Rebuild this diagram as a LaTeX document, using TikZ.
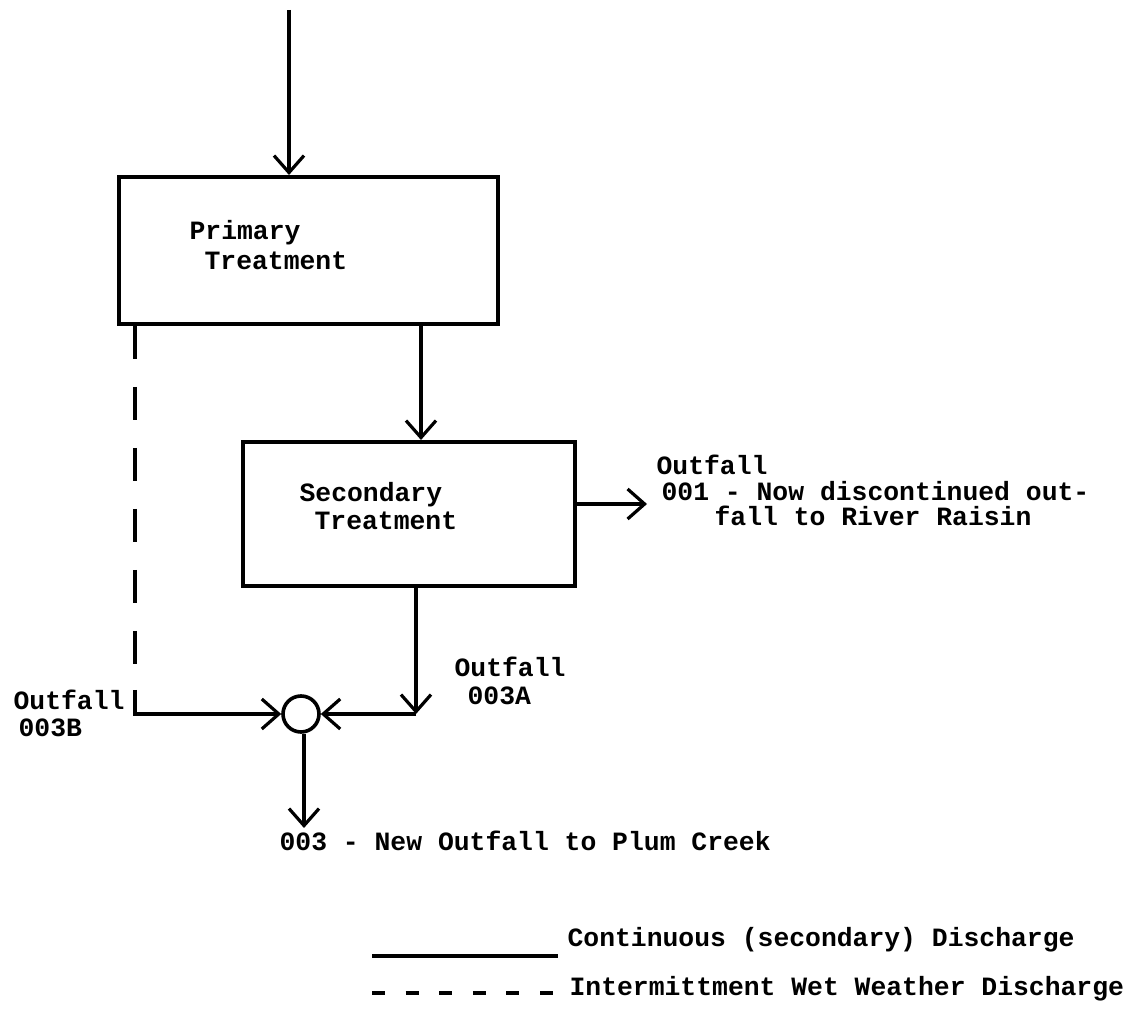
\documentclass[tikz,border=0pt]{standalone}
\usepackage{fontspec}
\setmonofont{Liberation Mono}
\usetikzlibrary{arrows.meta}
\begin{document}
\begin{tikzpicture}[x=0.5pt,y=-0.5pt,
  line width=1.6pt,
  flow/.style={-{Straight Barb[length=8.5pt,width=15pt,line width=1.6pt]}},
  box/.style={draw, line width=1.9pt, anchor=north west, inner sep=0pt},
  lbl/.style={anchor=mid west, inner sep=0pt, font=\ttfamily\bfseries\fontsize{13.2}{15}\selectfont},
  wetline/.style={line width=1.6pt, dash pattern=on 16.5pt off 14pt},
  legdash/.style={line width=2pt, dash pattern=on 6.5pt off 10.3pt},
]
\fill[white] (0,0) rectangle (1137,1010);
\useasboundingbox (0,0) rectangle (1137,1010);

% boxes
\node[box, minimum width=189.5pt, minimum height=73.5pt] (prim) at (117,175) {};
\node[lbl] (primA) at (188,235) {Primary};
\node[lbl] (primB) at (203,265) {Treatment};

\node[box, minimum width=166pt, minimum height=72pt] (sec) at (241,440) {};
\node[lbl] (secA) at (298,497) {Secondary};
\node[lbl] (secB) at (313,525) {Treatment};

\node[circle, draw, line width=1.8pt, minimum size=18pt, inner sep=0pt] (mix) at (301,714) {};

% labels
\node[lbl] (o1a) at (655,470) {Outfall};
\node[lbl] (o1b) at (660,496) {001 - Now discontinued out-};
\node[lbl] (o1c) at (713,521) {fall to River Raisin};
\node[lbl] (o3a) at (453,672) {Outfall};
\node[lbl] (o3b) at (466,700) {003A};
\node[lbl] (o3c) at (12,705) {Outfall};
\node[lbl] (o3d) at (17,732) {003B};
\node[lbl] (o3e) at (278,846) {003 - New Outfall to Plum Creek};
\node[lbl] (legA) at (566,942) {Continuous (secondary) Discharge};
\node[lbl] (legB) at (568,991) {Intermittment Wet Weather Discharge};

% coordinates
\coordinate (in) at (289,10);
\coordinate (xa) at (421,0);
\coordinate (xb) at (416,0);
\coordinate (xc) at (135,0);
\coordinate (bcorner) at (xc |- mix);
\coordinate (acorner) at (xb |- mix);
\coordinate (out1) at (647,504);
\coordinate (out3) at (304,828);
\coordinate (ls1) at (372,956);
\coordinate (ls2) at (558,956);
\coordinate (ld1) at (372,993);
\coordinate (ld2) at (556,993);

% connectors
\draw[flow] (in) -- (in |- prim.north);
\draw[flow] (prim.south -| xa) -- (sec.north -| xa);
\draw[flow] (sec.east |- out1) -- (out1);
\draw[wetline] (prim.south -| xc) -- ([yshift=12pt]bcorner);
\draw[flow] ([yshift=12pt]bcorner) -- (bcorner) -- (mix.west);
\draw[flow] (sec.south -| xb) -- (acorner);
\draw[flow] (acorner) -- (mix.east);
\draw[flow] (mix.south -| out3) -- (out3);

% legend
\draw[line width=2pt] (ls1) -- (ls2);
\draw[legdash] (ld1) -- (ld2);
\end{tikzpicture}
\end{document}
